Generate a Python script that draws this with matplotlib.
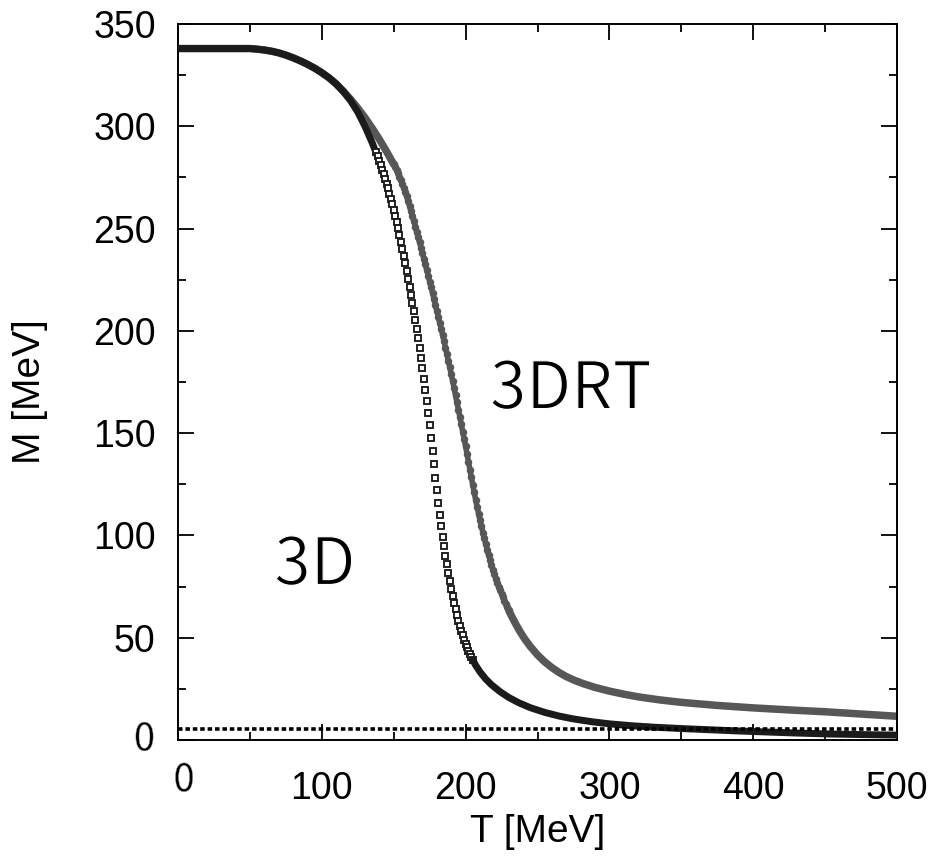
import numpy as np
import matplotlib
matplotlib.use('Agg')
import matplotlib.pyplot as plt
import matplotlib.transforms as mtransforms
import matplotlib.patheffects as pe
from matplotlib.ticker import MultipleLocator, FuncFormatter

plt.rcParams['font.family'] = ['Liberation Sans', 'DejaVu Sans']

# 3D: constituent mass M(T)
t_3d_lo = [0, 20, 40, 50, 55, 60, 65, 70, 75, 80, 85, 90, 95, 100, 105,
           110, 115, 120, 125, 130, 135, 140]
m_3d_lo = [338, 338, 338, 338, 337.7, 337.3, 336.7, 335.9, 334.8, 333.5, 332,
           330.3, 328.4, 326.2, 323.7, 320.7, 317, 312.5, 307, 300, 292, 283]

t_3d_mid = np.arange(138, 206)
m_3d_mid = [287.4, 285.3, 283.0, 280.9, 278.8, 276.6, 274.3,
            272.0, 269.6, 267.1, 264.6, 262.0, 259.2, 256.3, 253.3, 250.2, 247.0,
            243.6, 240.2, 236.7, 233.0, 229.2, 225.4, 221.5, 217.6, 213.6, 209.5,
            205.2, 200.8, 196.3, 191.6, 186.8, 181.8, 176.6, 171.2, 165.6, 159.8,
            153.8, 147.6, 141.3, 134.8, 128.3, 122.1, 116.0, 110.1, 104.6, 99.4,
            94.6, 90.1, 85.8, 81.7, 77.8, 74.0, 70.4, 67.0, 63.8, 60.9,
            58.2, 55.7, 53.4, 51.2, 49.1, 47.1, 45.3, 43.6, 42.0, 40.5, 39.1]

t_3d_hi = [205, 207, 210, 214, 218, 224, 230, 237, 245, 255, 265, 275, 288,
           300, 315, 330, 350, 370, 390, 410, 430, 455, 480, 500]
m_3d_hi = [39.1, 36.5, 33.3, 29.8, 27.0, 23.6, 20.8, 18.2, 15.8, 13.5, 11.7,
           10.3, 8.9, 7.9, 7.0, 6.3, 5.6, 5.0, 4.4, 3.9, 3.4, 2.9, 2.6, 2.4]

# 3DRT
t_rt_lo = [0, 20, 40, 50, 55, 60, 65, 70, 75, 80, 85, 90, 95, 100, 105,
           110, 115, 120, 125, 130, 135, 140, 145, 150]
m_rt_lo = [338, 338, 338, 338, 337.7, 337.3, 336.7, 335.9, 334.8, 333.5, 332,
           330.3, 328.4, 326.2, 323.7, 320.7, 317.1, 313.2, 308.9, 304.2, 299.1,
           293.6, 287.7, 281.4]

t_rt_mid = np.arange(150, 231)
m_rt_mid = [281.4, 280.1, 278.6, 277.0, 275.4, 273.7, 271.8, 269.9, 267.8, 265.7,
            263.4, 261.0, 258.6, 256.1, 253.6, 251.0, 248.4, 245.8, 243.2, 240.6,
            237.9, 235.2, 232.5, 229.7, 226.9, 224.1, 221.3, 218.5, 215.6, 212.7,
            209.8, 206.9, 204.0, 201.0, 198.0, 194.9, 191.8, 188.6, 185.4, 182.1,
            178.8, 175.4, 172.0, 168.5, 165.0, 161.5, 157.9, 154.3, 150.7, 147.1,
            143.5, 139.8, 136.0, 132.2, 128.4, 124.6, 121.0, 117.4, 114.0, 110.7,
            107.5, 104.4, 101.4, 98.5, 95.7, 93.0, 90.4, 87.9, 85.5, 83.2,
            81.0, 78.9, 76.9, 75.0, 73.2, 71.4, 69.7, 68.0, 66.4, 64.9, 63.4]

t_rt_hi = [230, 232, 235, 238, 241, 245, 250, 255, 260, 265, 270, 276, 282,
           290, 300, 310, 320, 335, 350, 375, 400, 425, 450, 475, 500]
m_rt_hi = [63.4, 60.5, 56.5, 52.8, 49.5, 45.7, 41.6, 38.2, 35.4, 33.0, 31.0,
           29.1, 27.5, 25.7, 23.9, 22.4, 21.1, 19.6, 18.4, 16.9, 15.7, 14.7,
           13.8, 12.7, 11.6]

m_ref = 5.5   # dotted horizontal level

BLACK = '#1b1b1b'
GRAY = '#575757'

fig = plt.figure(figsize=(9.4, 8.67), dpi=100)
ax = fig.add_axes([178 / 940, 1 - 740 / 867, (897 - 178) / 940, (740 - 24) / 867])

# 3DRT: gray beads
ax.plot(t_rt_lo, m_rt_lo, color=GRAY, lw=5.4, solid_capstyle='round',
        solid_joinstyle='round', zorder=2)
ax.plot(t_rt_mid, m_rt_mid, color=GRAY, lw=4.0, marker='o', ms=5.4,
        mec=GRAY, mfc=GRAY, mew=0, zorder=2)
ax.plot(t_rt_hi, m_rt_hi, color=GRAY, lw=5.4, solid_capstyle='round',
        solid_joinstyle='round', zorder=2)

# 3D: open black squares
ax.plot(t_3d_lo, m_3d_lo, color=BLACK, lw=5.0, solid_capstyle='round',
        solid_joinstyle='round', zorder=3)
ax.plot(t_3d_mid, m_3d_mid, ls='none', marker='s', ms=3.8, mfc='white',
        mec=BLACK, mew=1.35, zorder=3)
ax.plot(t_3d_hi, m_3d_hi, color=BLACK, lw=5.0, solid_capstyle='round',
        solid_joinstyle='round', zorder=3)

ax.axhline(m_ref, color='black', lw=2.6, ls=(0, (1.25, 0.8)), zorder=4)

ax.set_xlim(0, 500)
ax.set_ylim(0, 350)
ax.xaxis.set_major_locator(MultipleLocator(100))
ax.xaxis.set_minor_locator(MultipleLocator(50))
ax.yaxis.set_major_locator(MultipleLocator(50))
ax.yaxis.set_minor_locator(MultipleLocator(25))
no_zero = FuncFormatter(lambda v, _: '' if v == 0 else f'{v:.0f}')
ax.xaxis.set_major_formatter(no_zero)
ax.yaxis.set_major_formatter(no_zero)

ax.tick_params(which='both', direction='in', top=True, right=True, width=1.3)
ax.tick_params(which='major', length=11.5)
ax.tick_params(which='minor', length=6)
ax.tick_params(axis='x', which='major', pad=22, labelsize=27)
ax.tick_params(axis='y', which='major', pad=16, labelsize=27)
for s in ax.spines.values():
    s.set_linewidth(1.4)

# the zeros and the two curve names use a thinner face in the original
cjk = ['Noto Sans CJK JP', 'DejaVu Sans']
thin = [pe.Normal(), pe.Stroke(linewidth=0.9, foreground='white')]
thin0 = [pe.Normal(), pe.Stroke(linewidth=0.35, foreground='white')]
tx = mtransforms.blended_transform_factory(ax.transData, ax.transAxes)
ty = mtransforms.blended_transform_factory(ax.transAxes, ax.transData)
ax.text(4.2, -0.057, '0', transform=tx, ha='center', va='center',
        fontsize=27.5, family=cjk, clip_on=False, path_effects=thin0)
ax.text(-0.032, 0, '0', transform=ty, ha='right', va='center',
        fontsize=27.5, family=cjk, clip_on=False, path_effects=thin0)

ax.set_xlabel('T [MeV]', fontsize=28)
ax.set_ylabel('M [MeV]', fontsize=28)
ax.xaxis.label.set_va('center')
ax.yaxis.label.set_va('center')
ax.xaxis.set_label_coords(0.5, -0.1285)
ax.yaxis.set_label_coords(-0.206, 0.486)

ax.text(217, 162, '3DRT', fontsize=47, family=cjk, va='baseline',
        path_effects=thin)
ax.text(67, 76, '3D', fontsize=47, family=cjk, va='baseline',
        path_effects=thin)

fig.savefig('out.png', dpi=100)
